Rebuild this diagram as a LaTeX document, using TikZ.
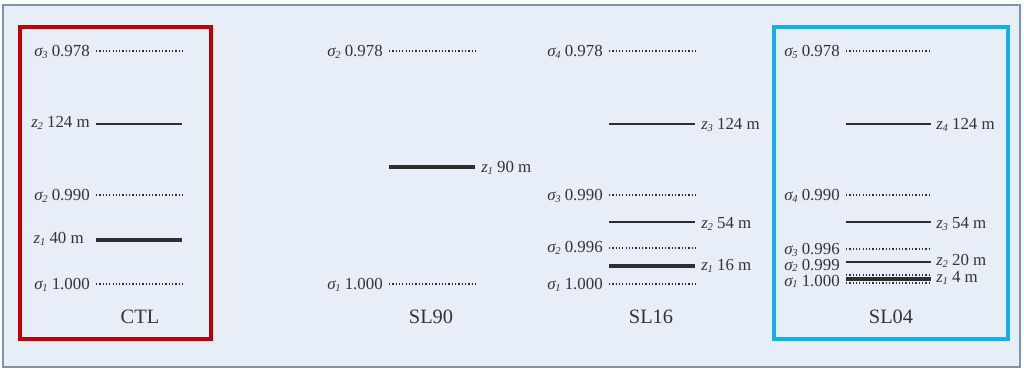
\documentclass[tikz,border=0pt]{standalone}
\usepackage{fontspec}
\setmainfont{Liberation Serif}
\definecolor{panel}{HTML}{E8EEF7}
\definecolor{panelrim}{HTML}{7F93AA}
\definecolor{ctlred}{HTML}{C00000}
\definecolor{slblue}{HTML}{14B0EA}
\definecolor{txtgray}{HTML}{333333}
\definecolor{linegray}{HTML}{2E2E2E}
\newcommand{\lvlsub}[1]{\raisebox{-0.08em}{\fontsize{7.5}{8}\selectfont\itshape #1}}
\newcommand{\sig}[1]{{\itshape σ\kern-0.3pt\lvlsub{#1}}}
\newcommand{\zz}[1]{{\itshape z\kern-0.2pt\lvlsub{#1}}}
\begin{document}
\begin{tikzpicture}[
    x=0.025cm, y=-0.025cm,
    lbl/.style={font=\fontsize{12}{14}\selectfont, text=txtgray, inner sep=0pt},
    runname/.style={font=\fontsize{14.5}{16}\selectfont, text=txtgray, inner sep=0pt},
    sigline/.style={draw=linegray, line width=1.05pt, dash pattern=on 0.9pt off 1.45pt},
    zline/.style={draw=linegray, line width=0.9pt},
    zthick/.style={draw=linegray, line width=2.4pt}
  ]
  \useasboundingbox (0,0) rectangle (1024,372);
  \fill[white] (0,0) rectangle (1024,372);
  \filldraw[fill=panel, draw=panelrim, line width=0.8pt] (3,5) rectangle (1020,367);
  \draw[ctlred, line width=2.2pt] (20,27) rectangle (211,339);
  \draw[slblue, line width=2.2pt] (774,27) rectangle (1008,339);

  % CTL
  \draw[sigline] (96,51) -- (182,51);
  \draw[zline] (96,124) -- (182,124);
  \draw[sigline] (96,195) -- (182,195);
  \draw[zthick] (96,240) -- (182,240);
  \draw[sigline] (96,284) -- (182,284);
  \node[lbl, anchor=base east] (ctl-s3) at (90,57) {\sig{3} 0.978};
  \node[lbl, anchor=base east] (ctl-z2) at (90,128) {\zz{2} 124 m};
  \node[lbl, anchor=base east] (ctl-s2) at (90,201) {\sig{2} 0.990};
  \node[lbl, anchor=base east] (ctl-z1) at (84,244) {\zz{1} 40 m};
  \node[lbl, anchor=base east] (ctl-s1) at (90,290) {\sig{1} 1.000};
  \node[runname, anchor=base] (ctl) at (140,323) {CTL};

  % SL90
  \draw[sigline] (389,51) -- (475,51);
  \draw[zthick] (389,167) -- (475,167);
  \draw[sigline] (389,284) -- (475,284);
  \node[lbl, anchor=base east] (sl90-s2) at (383,57) {\sig{2} 0.978};
  \node[lbl, anchor=base west] (sl90-z1) at (481,173) {\zz{1} 90 m};
  \node[lbl, anchor=base east] (sl90-s1) at (383,290) {\sig{1} 1.000};
  \node[runname, anchor=base] (sl90) at (431,323) {SL90};

  % SL16
  \draw[sigline] (609,51) -- (695,51);
  \draw[zline] (609,124) -- (695,124);
  \draw[sigline] (609,195) -- (695,195);
  \draw[zline] (609,222) -- (695,222);
  \draw[sigline] (609,248) -- (695,248);
  \draw[zthick] (609,266) -- (695,266);
  \draw[sigline] (609,284) -- (695,284);
  \node[lbl, anchor=base east] (sl16-s4) at (603,57) {\sig{4} 0.978};
  \node[lbl, anchor=base west] (sl16-z3) at (701,130) {\zz{3} 124 m};
  \node[lbl, anchor=base east] (sl16-s3) at (603,201) {\sig{3} 0.990};
  \node[lbl, anchor=base west] (sl16-z2) at (701,229) {\zz{2} 54 m};
  \node[lbl, anchor=base east] (sl16-s2) at (603,253) {\sig{2} 0.996};
  \node[lbl, anchor=base west] (sl16-z1) at (701,271) {\zz{1} 16 m};
  \node[lbl, anchor=base east] (sl16-s1) at (603,290) {\sig{1} 1.000};
  \node[runname, anchor=base] (sl16) at (651,323) {SL16};

  % SL04
  \draw[sigline] (846,51) -- (931,51);
  \draw[zline] (846,124) -- (931,124);
  \draw[sigline] (846,195) -- (931,195);
  \draw[zline] (846,222) -- (931,222);
  \draw[sigline] (846,249) -- (931,249);
  \draw[zline] (846,262) -- (931,262);
  \draw[sigline] (846,275) -- (931,275);
  \draw[zthick] (846,279) -- (931,279);
  \draw[sigline] (846,283) -- (931,283);
  \node[lbl, anchor=base east] (sl04-s5) at (840,57) {\sig{5} 0.978};
  \node[lbl, anchor=base west] (sl04-z4) at (936,130) {\zz{4} 124 m};
  \node[lbl, anchor=base east] (sl04-s4) at (840,201) {\sig{4} 0.990};
  \node[lbl, anchor=base west] (sl04-z3) at (936,229) {\zz{3} 54 m};
  \node[lbl, anchor=base east] (sl04-s3) at (840,255) {\sig{3} 0.996};
  \node[lbl, anchor=base west] (sl04-z2) at (936,266) {\zz{2} 20 m};
  \node[lbl, anchor=base east] (sl04-s2) at (840,270.5) {\sig{2} 0.999};
  \node[lbl, anchor=base west] (sl04-z1) at (936,283) {\zz{1} 4 m};
  \node[lbl, anchor=base east] (sl04-s1) at (840,286.5) {\sig{1} 1.000};
  \node[runname, anchor=base] (sl04) at (891,323) {SL04};
\end{tikzpicture}
\end{document}
